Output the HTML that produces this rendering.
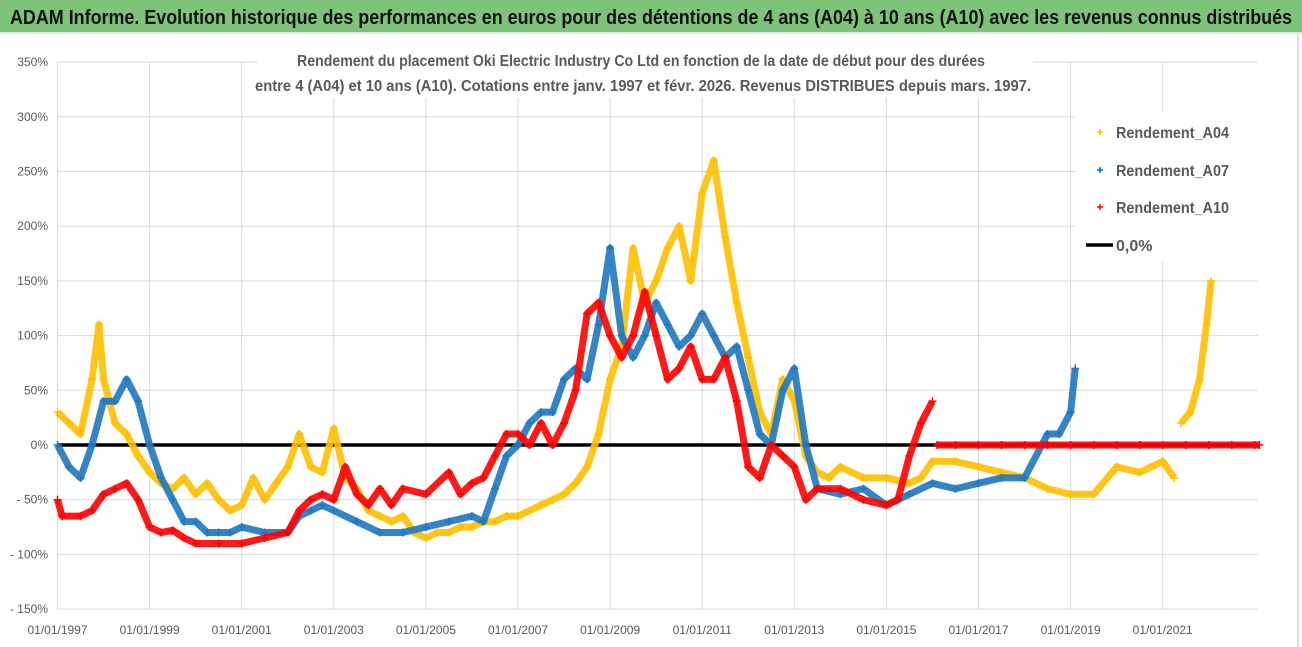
<!DOCTYPE html>
<html><head><meta charset="utf-8"><style>
html,body{margin:0;padding:0;background:#fff;}
svg{display:block;font-family:"Liberation Sans",sans-serif;}
</style></head><body>
<svg id="chart" width="1302" height="647" xmlns="http://www.w3.org/2000/svg">
<rect x="0" y="0" width="1302" height="647" fill="#fff"/>
<rect x="0" y="0" width="1302" height="32" fill="#7dc47a"/>
<rect x="0" y="32" width="1302" height="2" fill="#e6e6e6"/>
<text x="10" y="24" font-size="20" font-weight="bold" fill="#111" textLength="1282" lengthAdjust="spacingAndGlyphs">ADAM Informe. Evolution historique des performances en euros pour des détentions de 4 ans (A04) à 10 ans (A10) avec les revenus connus distribués</text>
<line x1="1298" y1="34" x2="1298" y2="647" stroke="#bfbfbf"/>
<g id="grid"></g>
<g id="marks"></g>
<rect x="258" y="46" width="775" height="52" fill="#fff"/>
<text x="641" y="66" font-size="15.5" font-weight="bold" fill="#595959" text-anchor="middle" textLength="688" lengthAdjust="spacingAndGlyphs">Rendement du placement Oki Electric Industry Co Ltd en fonction de la date de début pour des durées</text>
<text x="643" y="91" font-size="15.5" font-weight="bold" fill="#595959" text-anchor="middle" textLength="776" lengthAdjust="spacingAndGlyphs">entre 4 (A04) et 10 ans (A10). Cotations entre janv. 1997 et févr. 2026. Revenus DISTRIBUES depuis mars. 1997.</text>
<g>
<rect x="1075" y="112" width="215" height="150" fill="#fff"/>
<g><path d="M1097 132h6M1100 129v6" stroke="#ffc000" stroke-width="1.5"/><text x="1116" y="138" font-size="16" fill="#595959" font-weight="bold" textLength="113" lengthAdjust="spacingAndGlyphs">Rendement_A04</text></g>
<g><path d="M1097 170h6M1100 167v6" stroke="#0070c0" stroke-width="1.5"/><text x="1116" y="176" font-size="16" fill="#595959" font-weight="bold" textLength="113" lengthAdjust="spacingAndGlyphs">Rendement_A07</text></g>
<g><path d="M1097 207h6M1100 204v6" stroke="#ff0000" stroke-width="1.5"/><text x="1116" y="213" font-size="16" fill="#595959" font-weight="bold" textLength="113" lengthAdjust="spacingAndGlyphs">Rendement_A10</text></g>
<g><line x1="1086" y1="245" x2="1113" y2="245" stroke="#000" stroke-width="3.5"/><text x="1116" y="251" font-size="16" fill="#595959" font-weight="bold">0,0%</text></g>
</g>
</svg>
<script>
const yTicks=[-150,-100,-50,0,50,100,150,200,250,300,350];
const xTickYears=[1997,1999,2001,2003,2005,2007,2009,2011,2013,2015,2017,2019,2021];
const a04T=[1997,1997.25,1997.5,1997.75,1997.9,1998,1998.25,1998.5,1998.75,1999,1999.25,1999.5,1999.75,2000,2000.25,2000.5,2000.75,2001,2001.25,2001.5,2001.75,2002,2002.25,2002.5,2002.75,2003,2003.25,2003.5,2003.75,2004,2004.25,2004.5,2004.75,2005,2005.25,2005.5,2005.75,2006,2006.25,2006.5,2006.75,2007,2007.25,2007.5,2007.75,2008,2008.25,2008.5,2008.75,2009,2009.25,2009.5,2009.75,2010,2010.25,2010.5,2010.75,2011,2011.25,2011.5,2011.75,2012,2012.25,2012.5,2012.75,2013,2013.25,2013.5,2013.75,2014,2014.5,2015,2015.5,2015.75,2016,2016.5,2017,2017.5,2018,2018.5,2019,2019.5,2020,2020.5,2021,2021.25];
const a04V=[30,20,10,60,110,60,20,10,-10,-25,-35,-40,-30,-45,-35,-50,-60,-55,-30,-50,-35,-20,10,-20,-25,15,-30,-40,-60,-65,-70,-65,-80,-85,-80,-80,-75,-75,-70,-70,-65,-65,-60,-55,-50,-45,-35,-20,10,60,90,180,130,150,180,200,150,230,260,190,130,80,30,10,60,40,-10,-25,-30,-20,-30,-30,-35,-30,-15,-15,-20,-25,-30,-40,-45,-45,-20,-25,-15,-30];
const a04bT=[2021.4,2021.6,2021.8,2021.95,2022.05];
const a04bV=[20,30,60,110,150];
const a07T=[1997,1997.25,1997.5,1997.75,1998,1998.25,1998.5,1998.75,1999,1999.25,1999.5,1999.75,2000,2000.25,2000.5,2000.75,2001,2001.5,2002,2002.25,2002.5,2002.75,2003,2003.5,2004,2004.5,2005,2005.5,2006,2006.25,2006.5,2006.75,2007,2007.25,2007.5,2007.75,2008,2008.25,2008.5,2008.75,2009,2009.25,2009.5,2009.75,2010,2010.25,2010.5,2010.75,2011,2011.25,2011.5,2011.75,2012,2012.25,2012.5,2012.75,2013,2013.25,2013.5,2014,2014.5,2015,2015.5,2016,2016.5,2017,2017.5,2018,2018.5,2018.75,2019,2019.1];
const a07V=[0,-20,-30,0,40,40,60,40,0,-30,-50,-70,-70,-80,-80,-80,-75,-80,-80,-65,-60,-55,-60,-70,-80,-80,-75,-70,-65,-70,-40,-10,0,20,30,30,60,70,60,110,180,100,80,100,130,110,90,100,120,100,80,90,50,10,0,50,70,0,-40,-45,-40,-55,-45,-35,-40,-35,-30,-30,10,10,30,70];
const a10T=[1997,1997.1,1997.5,1997.75,1998,1998.25,1998.5,1998.75,1999,1999.25,1999.5,1999.75,2000,2000.5,2001,2001.5,2002,2002.25,2002.5,2002.75,2003,2003.25,2003.5,2003.75,2004,2004.25,2004.5,2005,2005.5,2005.75,2006,2006.25,2006.5,2006.75,2007,2007.25,2007.5,2007.75,2008,2008.25,2008.5,2008.75,2009,2009.25,2009.5,2009.75,2010,2010.25,2010.5,2010.75,2011,2011.25,2011.5,2011.75,2012,2012.25,2012.5,2012.75,2013,2013.25,2013.5,2014,2014.5,2015,2015.25,2015.5,2015.75,2016];
const a10V=[-50,-65,-65,-60,-45,-40,-35,-50,-75,-80,-78,-85,-90,-90,-90,-85,-80,-60,-50,-45,-50,-20,-45,-55,-40,-55,-40,-45,-25,-45,-35,-30,-10,10,10,0,20,0,20,50,120,130,100,80,100,140,100,60,70,90,60,60,80,40,-20,-30,0,-10,-20,-50,-40,-40,-50,-55,-50,-10,20,40];
const a10zT=[2016.1,2016.5,2017,2017.5,2018,2018.5,2019,2019.5,2020,2020.5,2021,2021.5,2022,2022.5,2023,2023.1];
const a10zV=[0,0,0,0,0,0,0,0,0,0,0,0,0,0,0,0];

const X0=57.5,PXY=46.05,Y0=445,PXV=1.094,XR=1258,YB=609,YT=62;
const xs=t=>X0+(t-1997)*PXY;
const ys=v=>Y0-v*PXV;
const NS="http://www.w3.org/2000/svg";
const grid=document.getElementById('grid'),marks=document.getElementById('marks');
function mk(tag,attrs,parent){const e=document.createElementNS(NS,tag);for(const k in attrs)e.setAttribute(k,attrs[k]);parent.appendChild(e);return e;}
yTicks.forEach(v=>{
  const l=mk('line',{x1:X0,x2:XR,y1:ys(v),y2:ys(v),stroke:'#d9d9d9','stroke-width':1},grid);
  
  
  const t=mk('text',{x:48,y:ys(v)+4,'font-size':12,fill:'#595959','text-anchor':'end'},grid);
  t.textContent=(v<0?'- '+(-v):v)+'%';
  
  
});
xTickYears.forEach(yr=>{
  const l=mk('line',{x1:xs(yr),x2:xs(yr),y1:YT,y2:YB,stroke:'#d9d9d9','stroke-width':1},grid);
  
  
  const t=mk('text',{x:xs(yr),y:634,'font-size':12,fill:'#595959','text-anchor':'middle'},grid);
  t.textContent='01/01/'+yr;
  
  
});
const za=mk('line',{x1:X0,x2:XR,y1:ys(0),y2:ys(0),stroke:'#000','stroke-width':3.5},marks);


function series(T,V,color,name){
  const g=mk('g',{},marks);
  
  
  const pl=mk('polyline',{points:T.map((t,i)=>xs(t)+','+ys(V[i])).join(' '),fill:'none',stroke:color,'stroke-width':7,'stroke-linejoin':'round','stroke-opacity':0.9},g);
  
  
  T.forEach((t,i)=>{const x=xs(t),y=ys(V[i]);
    const p=mk('path',{d:`M${x-4} ${y}h8M${x} ${y-4}v8`,stroke:color,'stroke-width':1.5},g);
    
    
  });
}
series(a04T,a04V,'#ffc000','series-a04');
series(a04bT,a04bV,'#ffc000','series-a04-recent');
series(a07T,a07V,'#1f77c0','series-a07');
series(a10T,a10V,'#ff0000','series-a10');
series(a10zT,a10zV,'#ff0000','series-a10-zero');
</script>
</body></html>
